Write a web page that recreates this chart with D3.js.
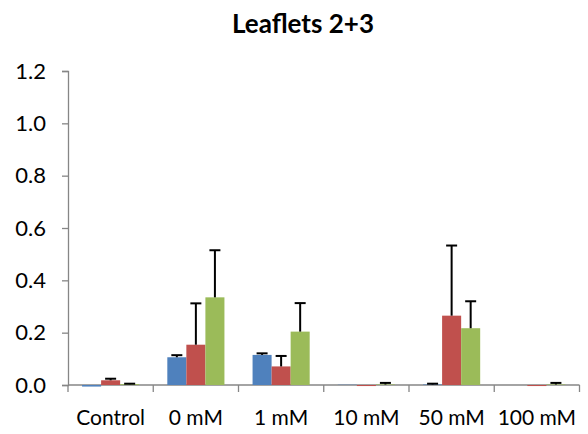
<!DOCTYPE html>
<html><head><meta charset="utf-8">
<script src="https://cdn.jsdelivr.net/npm/d3@7"></script>
<style>body{margin:0;background:#fff;} svg{display:block;}</style>
</head><body>
<svg id="c" width="588" height="434"></svg>
<script>
const title = "Leaflets 2+3";
const categories = ["Control", "0 mM", "1 mM", "10 mM", "50 mM", "100 mM"];
const seriesNames = ["Series 1", "Series 2", "Series 3"];
const series1 = [-0.006, 0.106, 0.115, 0.001, 0.002, 0.0];
const series2 = [0.018, 0.154, 0.071, -0.004, 0.265, -0.004];
const series3 = [0.003, 0.335, 0.204, 0.002, 0.217, 0.002];
const err1 = [0.0, 0.008, 0.006, 0.0, 0.003, 0.0];
const err2 = [0.006, 0.158, 0.040, 0.0, 0.268, 0.0];
const err3 = [0.002, 0.180, 0.109, 0.006, 0.103, 0.006];
const yTicks = [0, 0.2, 0.4, 0.6, 0.8, 1.0, 1.2];
const colors = ["#4F81BD", "#C0504D", "#9BBB59"];

const values = [series1, series2, series3];
const errs = [err1, err2, err3];

const svg = d3.select("#c");
const font = "Lato, 'Open Sans', sans-serif";
const x0 = 68, x1 = 579.5, yTop = 71, yBot = 385;

const x = d3.scaleBand().domain(categories).range([x0, x1]).paddingInner(0.33).paddingOuter(0.165);
const xs = d3.scaleBand().domain(d3.range(3)).range([0, x.bandwidth()]);
const y = d3.scaleLinear().domain([0, 1.2]).range([yBot, yTop]);

svg.append("text").attr("x", 303).attr("y", 33).attr("text-anchor", "middle")
  .attr("font-family", font).attr("font-weight", "bold").attr("font-size", 26).attr("fill", "#000").text(title);

// y axis
const ya = svg.append("g").attr("transform", `translate(${x0},0)`)
  .call(d3.axisLeft(y).tickValues(yTicks).tickFormat(d3.format(".1f")).tickSizeOuter(0).tickSize(6).tickPadding(16));
ya.select(".domain").attr("stroke", "#868686").attr("stroke-width", 1.3);
ya.selectAll(".tick line").attr("stroke", "#868686").attr("stroke-width", 1.3);
ya.selectAll(".tick text").attr("font-family", font).attr("font-size", 22).attr("fill", "#000");

// x axis
const xa = svg.append("g").attr("transform", `translate(0,${yBot})`);
xa.append("line").attr("x1", x0).attr("x2", x1).attr("y1", 0).attr("y2", 0).attr("stroke", "#868686").attr("stroke-width", 1.3);
const bounds = d3.range(categories.length + 1).map(i => x0 + i * (x1 - x0) / categories.length);
xa.selectAll("line.tk").data(bounds).join("line").attr("class", "tk")
  .attr("x1", d => d).attr("x2", d => d).attr("y1", 0).attr("y2", 7)
  .attr("stroke", "#868686").attr("stroke-width", 1.3);
xa.selectAll("text").data(categories).join("text")
  .attr("x", c => x(c) + x.bandwidth() / 2).attr("y", 40)
  .attr("text-anchor", "middle").attr("font-family", font).attr("font-size", 21).attr("fill", "#000")
  .text(c => c);

// bars
values.forEach((vals, si) => {
  const g = svg.append("g");
  g.selectAll("rect").data(categories).join("rect")
    .attr("x", (c) => x(c) + xs(si))
    .attr("width", xs.bandwidth())
    .attr("y", (c, i) => y(Math.max(0, vals[i])))
    .attr("height", (c, i) => Math.abs(y(vals[i]) - y(0)))
    .attr("fill", colors[si]);
});

// error bars
values.forEach((vals, si) => {
  const g = svg.append("g").attr("stroke", "#000").attr("stroke-width", 2);
  categories.forEach((c, i) => {
    const cx = x(c) + xs(si) + xs.bandwidth() / 2;
    const v = vals[i], e = errs[si][i];
    if (e <= 0) return;
    const top = v >= 0 ? v + e : v - e;
    g.append("line").attr("x1", cx).attr("x2", cx).attr("y1", y(v)).attr("y2", y(top));
    g.append("line").attr("x1", cx - 5.5).attr("x2", cx + 5.5).attr("y1", y(top)).attr("y2", y(top));
  });
});
</script>
</body></html>
